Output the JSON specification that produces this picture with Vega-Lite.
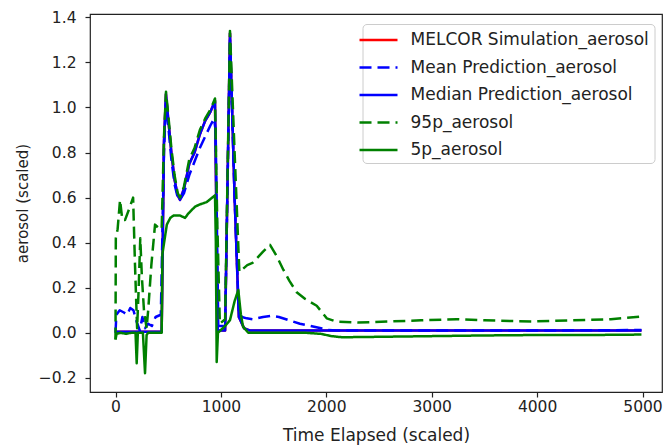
{
  "$schema": "https://vega.github.io/schema/vega-lite/v6.json",
  "width": 572,
  "height": 378,
  "autosize": {"type": "none"},
  "padding": {"left": 90, "top": 14, "right": 2, "bottom": 55},
  "background": "white",
  "config": {
    "font": "DejaVu Sans",
    "view": {"stroke": "#222222", "strokeWidth": 1.2},
    "axis": {
      "grid": false,
      "domain": false,
      "labelFont": "DejaVu Sans",
      "labelFontSize": 15.5,
      "labelColor": "#222222",
      "tickColor": "#222222",
      "tickSize": 5,
      "tickWidth": 1.2,
      "titleFont": "DejaVu Sans",
      "titleFontSize": 15.5,
      "titleFontWeight": "normal",
      "titleColor": "#222222"
    },
    "legend": {
      "orient": "none",
      "legendX": 272.5,
      "legendY": 10,
      "symbolType": "M-2,0H2",
      "symbolSize": 361,
      "symbolStrokeWidth": 2.5,
      "labelFont": "DejaVu Sans",
      "labelFontSize": 17,
      "labelColor": "#222222",
      "labelOffset": 21,
      "labelLimit": 400,
      "padding": 5,
      "rowPadding": 8.5,
      "fillColor": "white",
      "strokeColor": "#cccccc",
      "cornerRadius": 4
    }
  },
  "data": {
    "values": [
      {"s": "MELCOR Simulation_aerosol", "t": 0, "v": 0.005},
      {"s": "MELCOR Simulation_aerosol", "t": 200, "v": 0.005},
      {"s": "MELCOR Simulation_aerosol", "t": 438, "v": 0.005},
      {"s": "MELCOR Simulation_aerosol", "t": 460, "v": 0.85},
      {"s": "MELCOR Simulation_aerosol", "t": 479, "v": 1.06},
      {"s": "MELCOR Simulation_aerosol", "t": 500, "v": 0.95},
      {"s": "MELCOR Simulation_aerosol", "t": 530, "v": 0.8},
      {"s": "MELCOR Simulation_aerosol", "t": 560, "v": 0.68},
      {"s": "MELCOR Simulation_aerosol", "t": 590, "v": 0.61},
      {"s": "MELCOR Simulation_aerosol", "t": 612, "v": 0.59},
      {"s": "MELCOR Simulation_aerosol", "t": 650, "v": 0.64},
      {"s": "MELCOR Simulation_aerosol", "t": 700, "v": 0.75},
      {"s": "MELCOR Simulation_aerosol", "t": 750, "v": 0.8},
      {"s": "MELCOR Simulation_aerosol", "t": 800, "v": 0.88},
      {"s": "MELCOR Simulation_aerosol", "t": 850, "v": 0.94},
      {"s": "MELCOR Simulation_aerosol", "t": 900, "v": 0.98},
      {"s": "MELCOR Simulation_aerosol", "t": 944, "v": 1.03},
      {"s": "MELCOR Simulation_aerosol", "t": 955, "v": 0.6},
      {"s": "MELCOR Simulation_aerosol", "t": 970, "v": 0.01},
      {"s": "MELCOR Simulation_aerosol", "t": 1040, "v": 0.01},
      {"s": "MELCOR Simulation_aerosol", "t": 1086, "v": 1.33},
      {"s": "MELCOR Simulation_aerosol", "t": 1130, "v": 0.6},
      {"s": "MELCOR Simulation_aerosol", "t": 1170, "v": 0.07},
      {"s": "MELCOR Simulation_aerosol", "t": 1220, "v": 0.02},
      {"s": "MELCOR Simulation_aerosol", "t": 1276, "v": 0.01},
      {"s": "MELCOR Simulation_aerosol", "t": 2000, "v": 0.01},
      {"s": "MELCOR Simulation_aerosol", "t": 3000, "v": 0.01},
      {"s": "MELCOR Simulation_aerosol", "t": 4000, "v": 0.01},
      {"s": "MELCOR Simulation_aerosol", "t": 4990, "v": 0.01},

      {"s": "Mean Prediction_aerosol", "t": 0, "v": 0.0},
      {"s": "Mean Prediction_aerosol", "t": 8, "v": 0.08},
      {"s": "Mean Prediction_aerosol", "t": 40, "v": 0.1},
      {"s": "Mean Prediction_aerosol", "t": 80, "v": 0.09},
      {"s": "Mean Prediction_aerosol", "t": 110, "v": 0.08},
      {"s": "Mean Prediction_aerosol", "t": 140, "v": 0.11},
      {"s": "Mean Prediction_aerosol", "t": 170, "v": 0.1},
      {"s": "Mean Prediction_aerosol", "t": 200, "v": 0.05},
      {"s": "Mean Prediction_aerosol", "t": 230, "v": 0.01},
      {"s": "Mean Prediction_aerosol", "t": 255, "v": 0.07},
      {"s": "Mean Prediction_aerosol", "t": 280, "v": 0.02},
      {"s": "Mean Prediction_aerosol", "t": 310, "v": 0.04},
      {"s": "Mean Prediction_aerosol", "t": 345, "v": 0.03},
      {"s": "Mean Prediction_aerosol", "t": 380, "v": 0.07},
      {"s": "Mean Prediction_aerosol", "t": 430, "v": 0.08},
      {"s": "Mean Prediction_aerosol", "t": 460, "v": 0.8},
      {"s": "Mean Prediction_aerosol", "t": 479, "v": 1.03},
      {"s": "Mean Prediction_aerosol", "t": 500, "v": 0.92},
      {"s": "Mean Prediction_aerosol", "t": 530, "v": 0.77},
      {"s": "Mean Prediction_aerosol", "t": 560, "v": 0.66},
      {"s": "Mean Prediction_aerosol", "t": 590, "v": 0.6},
      {"s": "Mean Prediction_aerosol", "t": 612, "v": 0.59},
      {"s": "Mean Prediction_aerosol", "t": 650, "v": 0.62},
      {"s": "Mean Prediction_aerosol", "t": 700, "v": 0.7},
      {"s": "Mean Prediction_aerosol", "t": 750, "v": 0.76},
      {"s": "Mean Prediction_aerosol", "t": 800, "v": 0.82},
      {"s": "Mean Prediction_aerosol", "t": 850, "v": 0.87},
      {"s": "Mean Prediction_aerosol", "t": 900, "v": 0.92},
      {"s": "Mean Prediction_aerosol", "t": 935, "v": 0.95},
      {"s": "Mean Prediction_aerosol", "t": 950, "v": 0.9},
      {"s": "Mean Prediction_aerosol", "t": 975, "v": 0.03},
      {"s": "Mean Prediction_aerosol", "t": 1040, "v": 0.03},
      {"s": "Mean Prediction_aerosol", "t": 1086, "v": 1.3},
      {"s": "Mean Prediction_aerosol", "t": 1130, "v": 0.6},
      {"s": "Mean Prediction_aerosol", "t": 1170, "v": 0.09},
      {"s": "Mean Prediction_aerosol", "t": 1200, "v": 0.07},
      {"s": "Mean Prediction_aerosol", "t": 1245, "v": 0.064},
      {"s": "Mean Prediction_aerosol", "t": 1300, "v": 0.06},
      {"s": "Mean Prediction_aerosol", "t": 1400, "v": 0.07},
      {"s": "Mean Prediction_aerosol", "t": 1480, "v": 0.075},
      {"s": "Mean Prediction_aerosol", "t": 1550, "v": 0.07},
      {"s": "Mean Prediction_aerosol", "t": 1650, "v": 0.055},
      {"s": "Mean Prediction_aerosol", "t": 1750, "v": 0.04},
      {"s": "Mean Prediction_aerosol", "t": 1850, "v": 0.03},
      {"s": "Mean Prediction_aerosol", "t": 1950, "v": 0.02},
      {"s": "Mean Prediction_aerosol", "t": 2005, "v": 0.012},
      {"s": "Mean Prediction_aerosol", "t": 2100, "v": 0.01},
      {"s": "Mean Prediction_aerosol", "t": 3000, "v": 0.01},
      {"s": "Mean Prediction_aerosol", "t": 4000, "v": 0.01},
      {"s": "Mean Prediction_aerosol", "t": 4990, "v": 0.012},

      {"s": "Median Prediction_aerosol", "t": 0, "v": 0.005},
      {"s": "Median Prediction_aerosol", "t": 200, "v": 0.005},
      {"s": "Median Prediction_aerosol", "t": 438, "v": 0.005},
      {"s": "Median Prediction_aerosol", "t": 460, "v": 0.85},
      {"s": "Median Prediction_aerosol", "t": 479, "v": 1.06},
      {"s": "Median Prediction_aerosol", "t": 500, "v": 0.95},
      {"s": "Median Prediction_aerosol", "t": 530, "v": 0.8},
      {"s": "Median Prediction_aerosol", "t": 560, "v": 0.68},
      {"s": "Median Prediction_aerosol", "t": 590, "v": 0.61},
      {"s": "Median Prediction_aerosol", "t": 612, "v": 0.59},
      {"s": "Median Prediction_aerosol", "t": 650, "v": 0.64},
      {"s": "Median Prediction_aerosol", "t": 700, "v": 0.75},
      {"s": "Median Prediction_aerosol", "t": 750, "v": 0.8},
      {"s": "Median Prediction_aerosol", "t": 800, "v": 0.88},
      {"s": "Median Prediction_aerosol", "t": 850, "v": 0.94},
      {"s": "Median Prediction_aerosol", "t": 900, "v": 0.98},
      {"s": "Median Prediction_aerosol", "t": 944, "v": 1.03},
      {"s": "Median Prediction_aerosol", "t": 955, "v": 0.6},
      {"s": "Median Prediction_aerosol", "t": 970, "v": 0.01},
      {"s": "Median Prediction_aerosol", "t": 1040, "v": 0.01},
      {"s": "Median Prediction_aerosol", "t": 1086, "v": 1.33},
      {"s": "Median Prediction_aerosol", "t": 1130, "v": 0.6},
      {"s": "Median Prediction_aerosol", "t": 1170, "v": 0.07},
      {"s": "Median Prediction_aerosol", "t": 1220, "v": 0.02},
      {"s": "Median Prediction_aerosol", "t": 1276, "v": 0.01},
      {"s": "Median Prediction_aerosol", "t": 2000, "v": 0.01},
      {"s": "Median Prediction_aerosol", "t": 3000, "v": 0.01},
      {"s": "Median Prediction_aerosol", "t": 4000, "v": 0.01},
      {"s": "Median Prediction_aerosol", "t": 4990, "v": 0.01},

      {"s": "95p_aerosol", "t": 0, "v": -0.03},
      {"s": "95p_aerosol", "t": 3, "v": 0.42},
      {"s": "95p_aerosol", "t": 20, "v": 0.46},
      {"s": "95p_aerosol", "t": 43, "v": 0.59},
      {"s": "95p_aerosol", "t": 65, "v": 0.5},
      {"s": "95p_aerosol", "t": 90, "v": 0.5},
      {"s": "95p_aerosol", "t": 130, "v": 0.55},
      {"s": "95p_aerosol", "t": 167, "v": 0.6},
      {"s": "95p_aerosol", "t": 185, "v": 0.3},
      {"s": "95p_aerosol", "t": 205, "v": 0.02},
      {"s": "95p_aerosol", "t": 220, "v": 0.2},
      {"s": "95p_aerosol", "t": 235, "v": 0.42},
      {"s": "95p_aerosol", "t": 250, "v": 0.25},
      {"s": "95p_aerosol", "t": 270, "v": 0.1},
      {"s": "95p_aerosol", "t": 295, "v": 0.02},
      {"s": "95p_aerosol", "t": 310, "v": 0.1},
      {"s": "95p_aerosol", "t": 340, "v": 0.3},
      {"s": "95p_aerosol", "t": 375, "v": 0.48},
      {"s": "95p_aerosol", "t": 420, "v": 0.46},
      {"s": "95p_aerosol", "t": 438, "v": 0.46},
      {"s": "95p_aerosol", "t": 460, "v": 0.87},
      {"s": "95p_aerosol", "t": 479, "v": 1.07},
      {"s": "95p_aerosol", "t": 500, "v": 0.97},
      {"s": "95p_aerosol", "t": 530, "v": 0.82},
      {"s": "95p_aerosol", "t": 560, "v": 0.7},
      {"s": "95p_aerosol", "t": 590, "v": 0.62},
      {"s": "95p_aerosol", "t": 612, "v": 0.6},
      {"s": "95p_aerosol", "t": 650, "v": 0.65},
      {"s": "95p_aerosol", "t": 700, "v": 0.77},
      {"s": "95p_aerosol", "t": 750, "v": 0.82},
      {"s": "95p_aerosol", "t": 800, "v": 0.9},
      {"s": "95p_aerosol", "t": 850, "v": 0.95},
      {"s": "95p_aerosol", "t": 900, "v": 0.99},
      {"s": "95p_aerosol", "t": 944, "v": 1.04},
      {"s": "95p_aerosol", "t": 965, "v": 0.5},
      {"s": "95p_aerosol", "t": 990, "v": 0.04},
      {"s": "95p_aerosol", "t": 1040, "v": 0.06},
      {"s": "95p_aerosol", "t": 1086, "v": 1.34},
      {"s": "95p_aerosol", "t": 1130, "v": 0.8},
      {"s": "95p_aerosol", "t": 1175, "v": 0.27},
      {"s": "95p_aerosol", "t": 1200, "v": 0.28},
      {"s": "95p_aerosol", "t": 1250, "v": 0.3},
      {"s": "95p_aerosol", "t": 1300, "v": 0.31},
      {"s": "95p_aerosol", "t": 1340, "v": 0.33},
      {"s": "95p_aerosol", "t": 1400, "v": 0.36},
      {"s": "95p_aerosol", "t": 1466, "v": 0.39},
      {"s": "95p_aerosol", "t": 1530, "v": 0.34},
      {"s": "95p_aerosol", "t": 1592, "v": 0.28},
      {"s": "95p_aerosol", "t": 1650, "v": 0.23},
      {"s": "95p_aerosol", "t": 1719, "v": 0.18},
      {"s": "95p_aerosol", "t": 1800, "v": 0.15},
      {"s": "95p_aerosol", "t": 1909, "v": 0.12},
      {"s": "95p_aerosol", "t": 1960, "v": 0.09},
      {"s": "95p_aerosol", "t": 2004, "v": 0.064},
      {"s": "95p_aerosol", "t": 2099, "v": 0.049},
      {"s": "95p_aerosol", "t": 2300, "v": 0.045},
      {"s": "95p_aerosol", "t": 2600, "v": 0.05},
      {"s": "95p_aerosol", "t": 2900, "v": 0.055},
      {"s": "95p_aerosol", "t": 3237, "v": 0.06},
      {"s": "95p_aerosol", "t": 3500, "v": 0.055},
      {"s": "95p_aerosol", "t": 3965, "v": 0.05},
      {"s": "95p_aerosol", "t": 4300, "v": 0.055},
      {"s": "95p_aerosol", "t": 4700, "v": 0.06},
      {"s": "95p_aerosol", "t": 4976, "v": 0.071},

      {"s": "5p_aerosol", "t": 0, "v": -0.03},
      {"s": "5p_aerosol", "t": 10, "v": -0.005},
      {"s": "5p_aerosol", "t": 50, "v": 0.0},
      {"s": "5p_aerosol", "t": 100, "v": -0.005},
      {"s": "5p_aerosol", "t": 150, "v": 0.0},
      {"s": "5p_aerosol", "t": 190, "v": 0.0},
      {"s": "5p_aerosol", "t": 201, "v": -0.135},
      {"s": "5p_aerosol", "t": 212, "v": 0.0},
      {"s": "5p_aerosol", "t": 260, "v": 0.0},
      {"s": "5p_aerosol", "t": 280, "v": -0.18},
      {"s": "5p_aerosol", "t": 295, "v": -0.01},
      {"s": "5p_aerosol", "t": 310, "v": 0.0},
      {"s": "5p_aerosol", "t": 438, "v": 0.0},
      {"s": "5p_aerosol", "t": 445, "v": 0.35},
      {"s": "5p_aerosol", "t": 487, "v": 0.48},
      {"s": "5p_aerosol", "t": 520, "v": 0.51},
      {"s": "5p_aerosol", "t": 550, "v": 0.52},
      {"s": "5p_aerosol", "t": 613, "v": 0.52},
      {"s": "5p_aerosol", "t": 660, "v": 0.51},
      {"s": "5p_aerosol", "t": 692, "v": 0.53},
      {"s": "5p_aerosol", "t": 755, "v": 0.56},
      {"s": "5p_aerosol", "t": 802, "v": 0.57},
      {"s": "5p_aerosol", "t": 865, "v": 0.58},
      {"s": "5p_aerosol", "t": 944, "v": 0.61},
      {"s": "5p_aerosol", "t": 952, "v": 0.4},
      {"s": "5p_aerosol", "t": 960, "v": -0.13},
      {"s": "5p_aerosol", "t": 972, "v": 0.0},
      {"s": "5p_aerosol", "t": 1040, "v": 0.03},
      {"s": "5p_aerosol", "t": 1086, "v": 0.056},
      {"s": "5p_aerosol", "t": 1130, "v": 0.14},
      {"s": "5p_aerosol", "t": 1165, "v": 0.19},
      {"s": "5p_aerosol", "t": 1190, "v": 0.08},
      {"s": "5p_aerosol", "t": 1210, "v": 0.027},
      {"s": "5p_aerosol", "t": 1260, "v": 0.0},
      {"s": "5p_aerosol", "t": 1500, "v": 0.0},
      {"s": "5p_aerosol", "t": 1800, "v": 0.0},
      {"s": "5p_aerosol", "t": 1950, "v": -0.005},
      {"s": "5p_aerosol", "t": 2050, "v": -0.015},
      {"s": "5p_aerosol", "t": 2150, "v": -0.02},
      {"s": "5p_aerosol", "t": 2500, "v": -0.018},
      {"s": "5p_aerosol", "t": 3000, "v": -0.015},
      {"s": "5p_aerosol", "t": 3500, "v": -0.012},
      {"s": "5p_aerosol", "t": 4000, "v": -0.01},
      {"s": "5p_aerosol", "t": 4500, "v": -0.01},
      {"s": "5p_aerosol", "t": 4990, "v": -0.008}
    ]
  },
  "mark": {"type": "line", "strokeWidth": 2.5, "clip": true, "strokeJoin": "round"},
  "encoding": {
    "x": {
      "field": "t",
      "type": "quantitative",
      "scale": {"domain": [-242, 5185], "nice": false, "zero": false},
      "axis": {
        "values": [0, 1000, 2000, 3000, 4000, 5000],
        "format": "d",
        "title": "Time Elapsed (scaled)",
        "titleFontSize": 17,
        "labelPadding": 2,
        "titlePadding": 13
      }
    },
    "y": {
      "field": "v",
      "type": "quantitative",
      "scale": {"domain": [-0.263, 1.415], "nice": false, "zero": false},
      "axis": {
        "values": [-0.2, 0, 0.2, 0.4, 0.6, 0.8, 1.0, 1.2, 1.4],
        "format": ".1f",
        "title": "aerosol (scaled)",
        "titleFontSize": 15,
        "labelPadding": 9,
        "titlePadding": 8
      }
    },
    "color": {
      "field": "s",
      "type": "nominal",
      "sort": null,
      "scale": {
        "domain": ["MELCOR Simulation_aerosol", "Mean Prediction_aerosol", "Median Prediction_aerosol", "95p_aerosol", "5p_aerosol"],
        "range": ["#ff0000", "#0000ff", "#0000ff", "#008000", "#008000"]
      },
      "legend": {"title": null}
    },
    "strokeDash": {
      "field": "s",
      "type": "nominal",
      "sort": null,
      "scale": {
        "domain": ["MELCOR Simulation_aerosol", "Mean Prediction_aerosol", "Median Prediction_aerosol", "95p_aerosol", "5p_aerosol"],
        "range": [[1, 0], [12, 6], [1, 0], [12, 6], [1, 0]]
      },
      "legend": {"title": null}
    }
  }
}
